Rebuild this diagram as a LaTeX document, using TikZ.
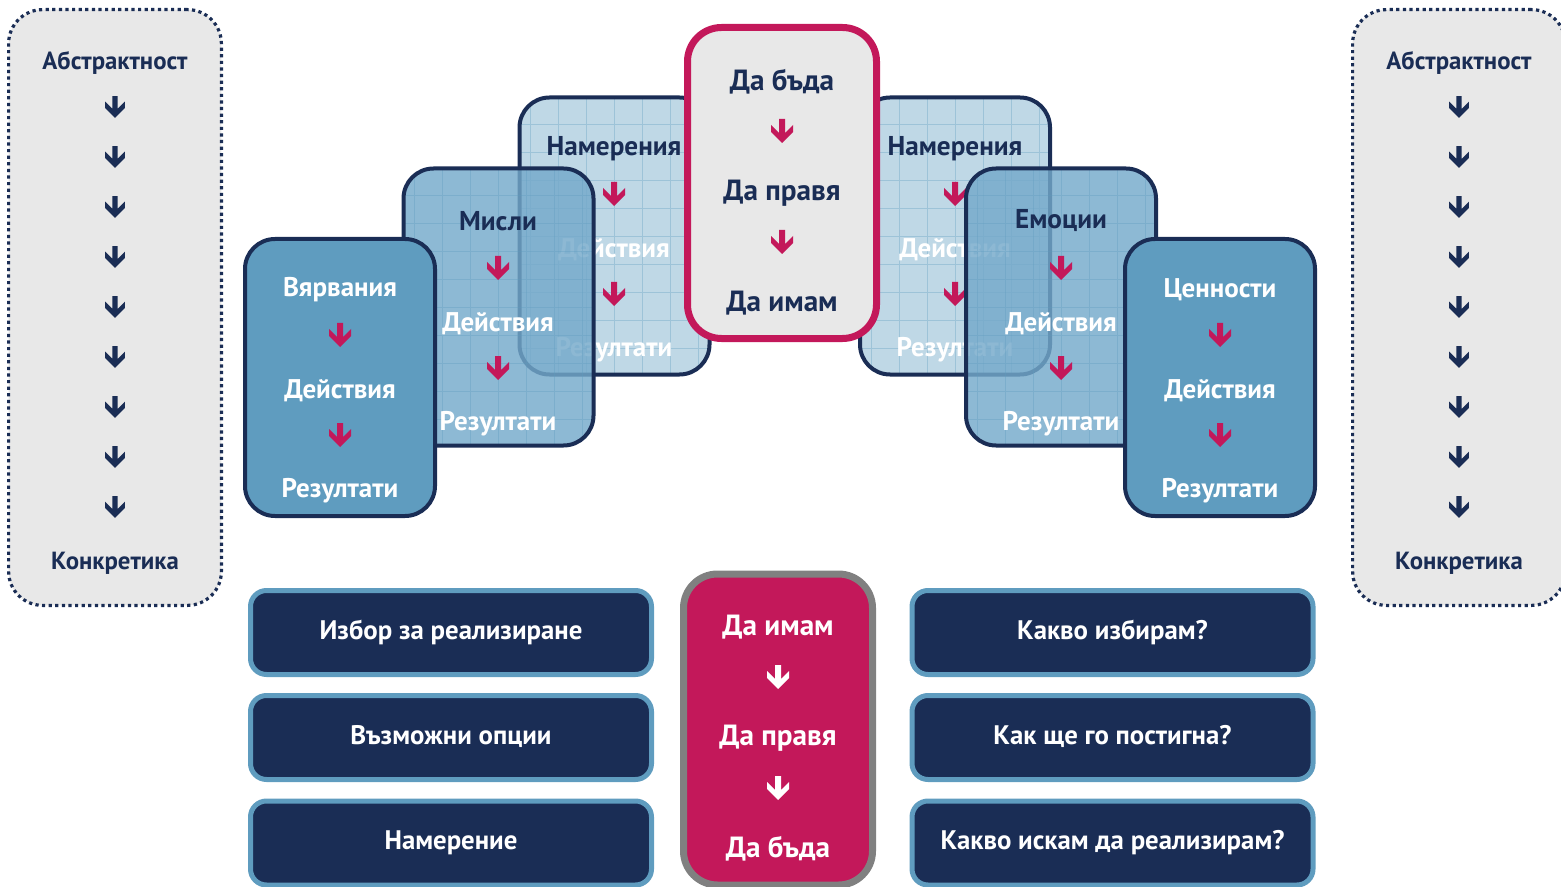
\documentclass[tikz,border=0pt]{standalone}
\usepackage{fontspec}
\setmainfont{PT Sans}
\usetikzlibrary{positioning}

\definecolor{navy}{HTML}{1A2D55}
\definecolor{cardblue}{HTML}{5F9CBF}
\definecolor{midblue}{HTML}{74A9CA}
\definecolor{paleblue}{HTML}{BFD8E6}
\definecolor{crimson}{HTML}{C3185A}
\definecolor{panelgray}{HTML}{E8E8E8}
\definecolor{rimgray}{HTML}{808080}

\tikzset{
  darr/.pic={\path[pic actions] (-3,-12) -- (3,-12) -- (3,2) -- (11,-6) -- (11,1)
             -- (0,12) -- (-11,1) -- (-11,-6) -- (-3,2) -- cycle;},
  card/.style={rectangle, draw=navy, line width=2pt, rounded corners=15pt,
               minimum width=95pt, minimum height=138.5pt, inner sep=0pt},
  gridline/.style={draw=cardblue, line width=0.4pt, draw opacity=0.35},
  gridded/.style={path picture={\draw[gridline] (path picture bounding box.south west)
               grid[step=14pt] (path picture bounding box.north east);}},
  panel/.style={rectangle, draw=navy, fill=panelgray, line width=1.6pt,
               dash pattern=on 1.6pt off 1.7pt, rounded corners=17pt,
               minimum width=106.4pt, minimum height=297.9pt},
  core/.style={rectangle, line width=3.5pt, rounded corners=17pt,
               minimum width=94.5pt, minimum height=155.5pt},
  qbox/.style={rectangle, fill=navy, draw=cardblue, line width=2.5pt, rounded corners=8pt,
               minimum width=200.5pt, minimum height=42pt, text=white,
               text height=0.75em, text depth=0.1em,
               font=\bfseries\fontsize{13.4}{15}\selectfont},
  ptxt/.style={font=\bfseries\fontsize{12.4}{14}\selectfont, text=navy, yshift=-1pt},
  ctxt/.style={font=\bfseries\fontsize{13.5}{15}\selectfont, text=white, yshift=-1pt},
  htxt/.style={font=\bfseries\fontsize{13.6}{16}\selectfont, text=navy, yshift=-1pt},
  ktxt/.style={font=\bfseries\fontsize{14.6}{17}\selectfont, text=navy, yshift=-1pt},
}

\begin{document}
\begin{tikzpicture}[x=0.5pt, y=-0.5pt]
  \useasboundingbox (0,0) rectangle (1561,887);

  % side panels
  \node[panel] (abstrL) at (115,307.5) {};
  \node[ptxt] (absL) at (115,61) {Абстрактност};
  \node[ptxt] (konL) at (115,561) {Конкретика};
  \node[panel] (abstrR) at (1459,307.5) {};
  \node[ptxt] (absR) at (1459,61) {Абстрактност};
  \node[ptxt] (konR) at (1459,561) {Конкретика};
  \foreach \y in {107,157,...,507} {
    \pic[fill=navy, scale=0.9] at (115,\y) {darr};
    \pic[fill=navy, scale=0.9] at (1459,\y) {darr};
  }

  % back cards
  \node[card, fill=paleblue, gridded] (intentL) at (614.5,236) {};
  \node[htxt] (intentLa) at (614,147) {Намерения};
  \pic[fill=crimson] at (614,194) {darr};
  \node[ctxt] (intentLb) at (614,248) {Действия};
  \pic[fill=crimson] at (614,294) {darr};
  \node[ctxt] (intentLc) at (614,348) {Резултати};

  \node[card, fill=paleblue, gridded] (intentR) at (955,236) {};
  \node[htxt] (intentRa) at (955,147) {Намерения};
  \pic[fill=crimson] at (955,194) {darr};
  \node[ctxt] (intentRb) at (955,248) {Действия};
  \pic[fill=crimson] at (955,294) {darr};
  \node[ctxt] (intentRc) at (955,348) {Резултати};

  % middle cards
  \node[card, fill=midblue, fill opacity=0.82, gridded] (thoughts) at (498.5,307) {};
  \node[htxt] (thoughtsa) at (498,219) {Мисли};
  \pic[fill=crimson] at (498,268) {darr};
  \node[ctxt] (thoughtsb) at (498,322) {Действия};
  \pic[fill=crimson] at (498,368) {darr};
  \node[ctxt] (thoughtsc) at (498,422) {Резултати};

  \node[card, fill=midblue, fill opacity=0.82, gridded] (emotions) at (1061,307) {};
  \node[htxt] (emotionsa) at (1061,219) {Емоции};
  \pic[fill=crimson] at (1061,268) {darr};
  \node[ctxt] (emotionsb) at (1061,322) {Действия};
  \pic[fill=crimson] at (1061,368) {darr};
  \node[ctxt] (emotionsc) at (1061,422) {Резултати};

  % front cards
  \node[card, fill=cardblue] (beliefs) at (340,377.5) {};
  \node[ctxt] (beliefsa) at (340,288) {Вярвания};
  \pic[fill=crimson] at (340,335) {darr};
  \node[ctxt] (beliefsb) at (340,389) {Действия};
  \pic[fill=crimson] at (340,435) {darr};
  \node[ctxt] (beliefsc) at (340,489) {Резултати};

  \node[card, fill=cardblue] (values) at (1220,377.5) {};
  \node[ctxt] (valuesa) at (1220,288) {Ценности};
  \pic[fill=crimson] at (1220,335) {darr};
  \node[ctxt] (valuesb) at (1220,389) {Действия};
  \pic[fill=crimson] at (1220,435) {darr};
  \node[ctxt] (valuesc) at (1220,489) {Резултати};

  % centre card
  \node[core, draw=crimson, fill=panelgray] (coreT) at (782,183) {};
  \node[ktxt] (beT) at (782,80) {Да бъда};
  \pic[fill=crimson] at (782,131) {darr};
  \node[ktxt] (doT) at (782,191) {Да правя};
  \pic[fill=crimson] at (782,242) {darr};
  \node[ktxt] (haveT) at (782,301) {Да имам};

  % bottom row
  \node[qbox] (choice) at (451,632.5) {Избор за реализиране};
  \node[qbox] (options) at (451,737.5) {Възможни опции};
  \node[qbox] (intent) at (451,843) {Намерение};

  \node[core, draw=rimgray, fill=crimson] (coreB) at (778,729.5) {};
  \node[ktxt, text=white] (haveB) at (778,625) {Да имам};
  \pic[fill=white] at (778,677) {darr};
  \node[ktxt, text=white] (doB) at (778,736) {Да правя};
  \pic[fill=white] at (778,788) {darr};
  \node[ktxt, text=white] (beB) at (778,847) {Да бъда};

  \node[qbox] (whatchoose) at (1112.5,632.5) {Какво избирам?};
  \node[qbox] (howreach) at (1112.5,737.5) {Как ще го постигна?};
  \node[qbox] (whatwant) at (1112.5,843) {Какво искам да реализирам?};
\end{tikzpicture}
\end{document}
